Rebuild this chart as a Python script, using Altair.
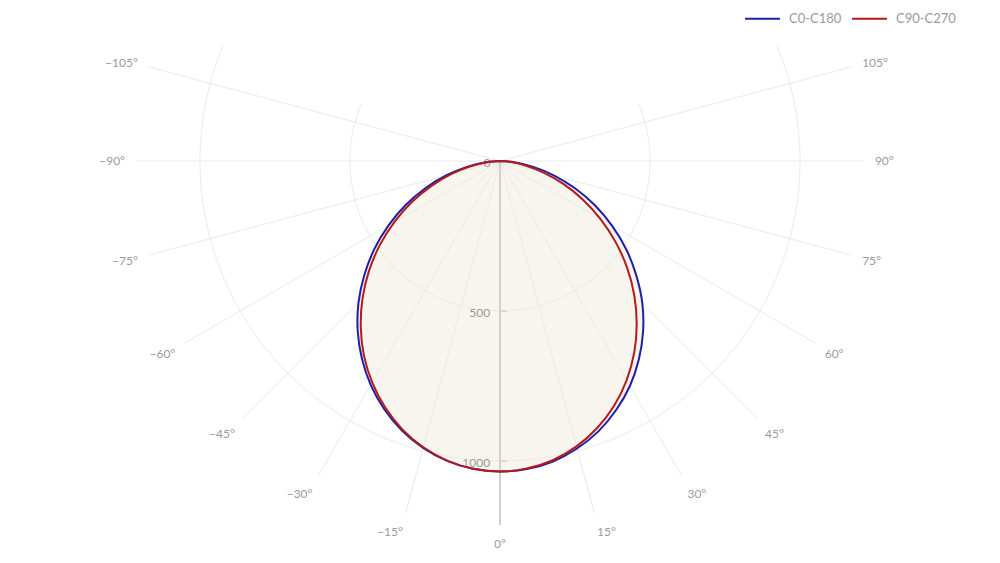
import altair as alt
import pandas as pd

# ---- data ----
angles = [-90, -85, -80, -75, -70, -65, -60, -55, -50, -45, -40, -35, -30, -25, -20, -15, -10, -5,
          0, 5, 10, 15, 20, 25, 30, 35, 40, 45, 50, 55, 60, 65, 70, 75, 80, 85, 90]
c0_c180 = [0, 47, 112, 186, 265, 347, 429, 511, 590, 667, 738, 803, 862, 913, 956, 990, 1015, 1030,
           1035, 1031, 1017, 992, 959, 916, 866, 807, 742, 671, 593, 514, 431, 349, 266, 187, 113, 47, 0]
c90_c270 = [0, 38, 97, 167, 243, 324, 406, 489, 570, 648, 722, 791, 852, 906, 952, 988, 1014, 1030,
            1035, 1029, 1013, 985, 947, 900, 844, 780, 709, 633, 553, 470, 387, 305, 226, 152, 86, 32, 0]
series_names = ["C0-C180", "C90-C270"]
series_colors = ["#1f1fa8", "#b31b1b"]

spoke_angles = [-105, -90, -75, -60, -45, -30, -15, 0, 15, 30, 45, 60, 75, 90, 105]
spoke_labels = [("\u2212" if a < 0 else "") + str(abs(a)) + "\u00b0" for a in spoke_angles]
grid_radii = [500, 1000]
radial_ticks = [500, 1000]
radial_tick_labels = ["500", "1000"]
r_max = 1213

# ---- tables ----
rows = []
for name, vals in zip(series_names, [c0_c180, c90_c270]):
    for i, (a, v) in enumerate(zip(angles, vals)):
        rows.append({"series": name, "a": a, "I": v, "idx": i})
curves = pd.DataFrame(rows)
spokes = pd.DataFrame({"a": spoke_angles, "label": spoke_labels})
rticks = pd.DataFrame({"r": radial_ticks, "label": radial_tick_labels})

W, H = 984, 547
k = 0.3  # px per unit
cx, cy = 492, 153
xs = alt.Scale(domain=[-cx / k, (W - cx) / k], nice=False, zero=False)
ys = alt.Scale(domain=[-cy / k, (H - cy) / k], nice=False, zero=False, reverse=True)

FONT = "Lato"
FS = 12
GRID = "#e9e9e9"
TXT = "#9a9a9a"

def X(f):
    return alt.X(f, type="quantitative", scale=xs, axis=None)

def Y(f):
    return alt.Y(f, type="quantitative", scale=ys, axis=None)

polar = dict(x="datum.I * sin(datum.a * PI / 180)", y="datum.I * cos(datum.a * PI / 180)")

fill = alt.Chart(curves).transform_calculate(**polar).mark_line(
    fill="#f8f5ee", strokeOpacity=0, interpolate="catmull-rom"
).encode(x=X("x"), y=Y("y"), detail="series:N", order="idx:Q")

arcs = []
for r in grid_radii:
    arcs.append(
        alt.Chart(alt.sequence(start=-112.5, stop=112.6, step=0.5, as_="a"))
        .transform_calculate(I=str(r))
        .transform_calculate(**polar)
        .mark_line(color=GRID, strokeWidth=1)
        .encode(x=X("x"), y=Y("y"), order="a:Q")
    )

spoke_rules = alt.Chart(spokes).transform_calculate(
    x0="0", y0="0",
    x2=f"{r_max} * sin(datum.a * PI / 180)", y2=f"{r_max} * cos(datum.a * PI / 180)"
).mark_rule(color=GRID, strokeWidth=1).encode(
    x=X("x0"), y=Y("y0"), x2="x2:Q", y2="y2:Q"
)

# angular tick labels placed outside the spoke ends
pad = 11 / k
fs_u = FS / k
label_calc = dict(phi="(datum.a - 90) * PI / 180")
label_calc2 = dict(
    tx=f"({r_max} + {pad}) * cos(datum.phi)",
    ty=f"-{r_max} * sin(datum.phi) - sin(datum.phi) * ({pad} + {fs_u} * (sin(datum.phi) > 0 ? 0.2 : 1))"
       f" + abs(cos(datum.phi)) * {fs_u} * 0.35",
)
spoke_text_layers = []
for flt, al in [("datum.a < 0", "right"), ("datum.a == 0", "center"), ("datum.a > 0", "left")]:
    spoke_text_layers.append(
        alt.Chart(spokes).transform_filter(flt).transform_calculate(**label_calc)
        .transform_calculate(**label_calc2)
        .mark_text(font=FONT, fontSize=FS, color=TXT, align=al, baseline="alphabetic")
        .encode(x=X("tx"), y=Y("ty"), text="label:N")
    )

axis_line = alt.Chart(pd.DataFrame({"r0": [0], "r1": [r_max]})).transform_calculate(
    x0="0"
).mark_rule(color="#d0d0d0", strokeWidth=2).encode(x=X("x0"), y=Y("r0"), y2="r1:Q")

tick_rules = alt.Chart(rticks).transform_calculate(x0="0", x1="23").mark_rule(
    color="#d0d0d0", strokeWidth=1.5
).encode(x=X("x0"), x2="x1:Q", y=Y("r"))

tick_text = alt.Chart(rticks).transform_calculate(x0="-33", y0="datum.r + 6").mark_text(
    font=FONT, fontSize=FS, color=TXT, align="right", baseline="middle"
).encode(x=X("x0"), y=Y("y0"), text="label:N")

zero_text = alt.Chart(pd.DataFrame({"x0": [-43], "y0": [8], "label": ["0"]})).mark_text(
    font=FONT, fontSize=FS, color=TXT, align="center", baseline="middle"
).encode(x=X("x0"), y=Y("y0"), text="label:N")

lines = alt.Chart(curves).transform_calculate(**polar).mark_line(
    strokeWidth=2, interpolate="catmull-rom"
).encode(
    x=X("x"), y=Y("y"), order="idx:Q",
    color=alt.Color("series:N", scale=alt.Scale(domain=series_names, range=series_colors),
                    legend=alt.Legend(orient="none", legendX=736, legendY=-8, direction="horizontal",
                                      title=None, symbolType="stroke", symbolSize=1225,
                                      symbolStrokeWidth=2, labelFont=FONT, labelFontSize=13,
                                      labelColor=TXT, labelOffset=8, columnPadding=6)),
)

chart = alt.layer(fill, *arcs, spoke_rules, axis_line, tick_rules, tick_text, zero_text,
                  lines, *spoke_text_layers).properties(
    width=W, height=H, autosize=alt.AutoSizeParams(type="none"), padding=0
).configure_view(strokeWidth=0)

chart.save("out.html", embed_options={"renderer": "svg", "actions": False})
